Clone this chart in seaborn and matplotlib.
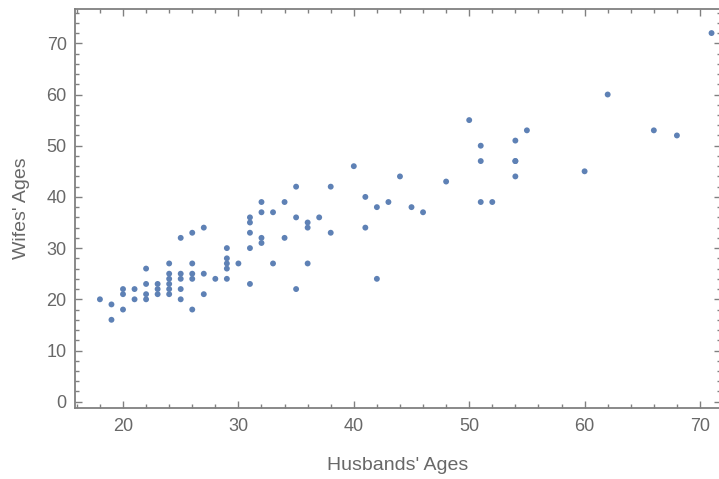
import matplotlib
matplotlib.use("Agg")
import matplotlib.pyplot as plt
from matplotlib.ticker import MultipleLocator
import seaborn as sns
import pandas as pd

husbands_ages = [18, 19, 19, 20, 20, 20, 21, 21, 22, 22, 22, 22, 23, 23, 23,
                 24, 24, 24, 24, 24, 24, 25, 25, 25, 25, 25, 26, 26, 26, 26, 26,
                 27, 27, 27, 28, 29, 29, 29, 29, 29, 30, 31, 31, 31, 31, 31,
                 32, 32, 32, 32, 33, 33, 34, 34, 35, 35, 35, 36, 36, 36, 37,
                 38, 38, 40, 41, 41, 42, 42, 43, 44, 45, 46, 48, 50, 51, 51, 51,
                 52, 54, 54, 54, 54, 55, 60, 62, 66, 68, 71]
wives_ages = [20, 19, 16, 22, 21, 18, 22, 20, 26, 23, 21, 20, 23, 22, 21,
              27, 25, 24, 23, 22, 21, 32, 25, 24, 22, 20, 33, 27, 25, 24, 18,
              34, 25, 21, 24, 30, 28, 27, 26, 24, 27, 36, 35, 33, 30, 23,
              39, 37, 32, 31, 37, 27, 39, 32, 42, 36, 22, 35, 34, 27, 36,
              42, 33, 46, 40, 34, 38, 24, 39, 44, 38, 37, 43, 55, 50, 47, 39,
              39, 51, 47, 47, 44, 53, 45, 60, 53, 52, 72]

x_label = "Husbands' Ages"
y_label = "Wifes' Ages"

df = pd.DataFrame({"h": husbands_ages, "w": wives_ages})

sns.set_style("white")
plt.rcParams['font.family'] = ['Liberation Sans', 'DejaVu Sans']

W, H = 719, 479
fig = plt.figure(figsize=(W / 100, H / 100), dpi=100)
left, right, top, bottom = 75, 721, 9, 408
ax = fig.add_axes([left / W, 1 - bottom / H, (right - left) / W, (bottom - top) / H])

sns.scatterplot(data=df, x="h", y="w", ax=ax, color="#5E81B5", s=18,
                linewidth=0, edgecolor="none", zorder=3)

ax.set_xlim(15.84, 71.82)
ax.set_ylim(-1.23, 76.7)

frame_col = "#808080"
for sp in ax.spines.values():
    sp.set_color(frame_col)
    sp.set_linewidth(1.3)
    sp.set_visible(True)

ax.xaxis.set_major_locator(MultipleLocator(10))
ax.xaxis.set_minor_locator(MultipleLocator(2))
ax.yaxis.set_major_locator(MultipleLocator(10))
ax.yaxis.set_minor_locator(MultipleLocator(2))

txt_col = "#686868"
ax.tick_params(which="both", direction="in", top=True, right=True,
               bottom=True, left=True, color=frame_col, width=1.0)
ax.tick_params(which="major", length=5)
ax.tick_params(which="minor", length=3)
ax.tick_params(axis="both", which="major", labelsize=13, labelcolor=txt_col)
ax.tick_params(axis="x", which="major", pad=7)
ax.tick_params(axis="y", which="major", pad=6)

ax.set_xlabel(x_label, fontsize=14, color=txt_col, va="center")
ax.set_ylabel(y_label, fontsize=14, color=txt_col, va="center")
ax.xaxis.set_label_coords(0.5, (bottom - 466) / (bottom - top))
ax.yaxis.set_label_coords((21 - left) / (right - left), 0.5)

fig.savefig("out.png", dpi=100)
